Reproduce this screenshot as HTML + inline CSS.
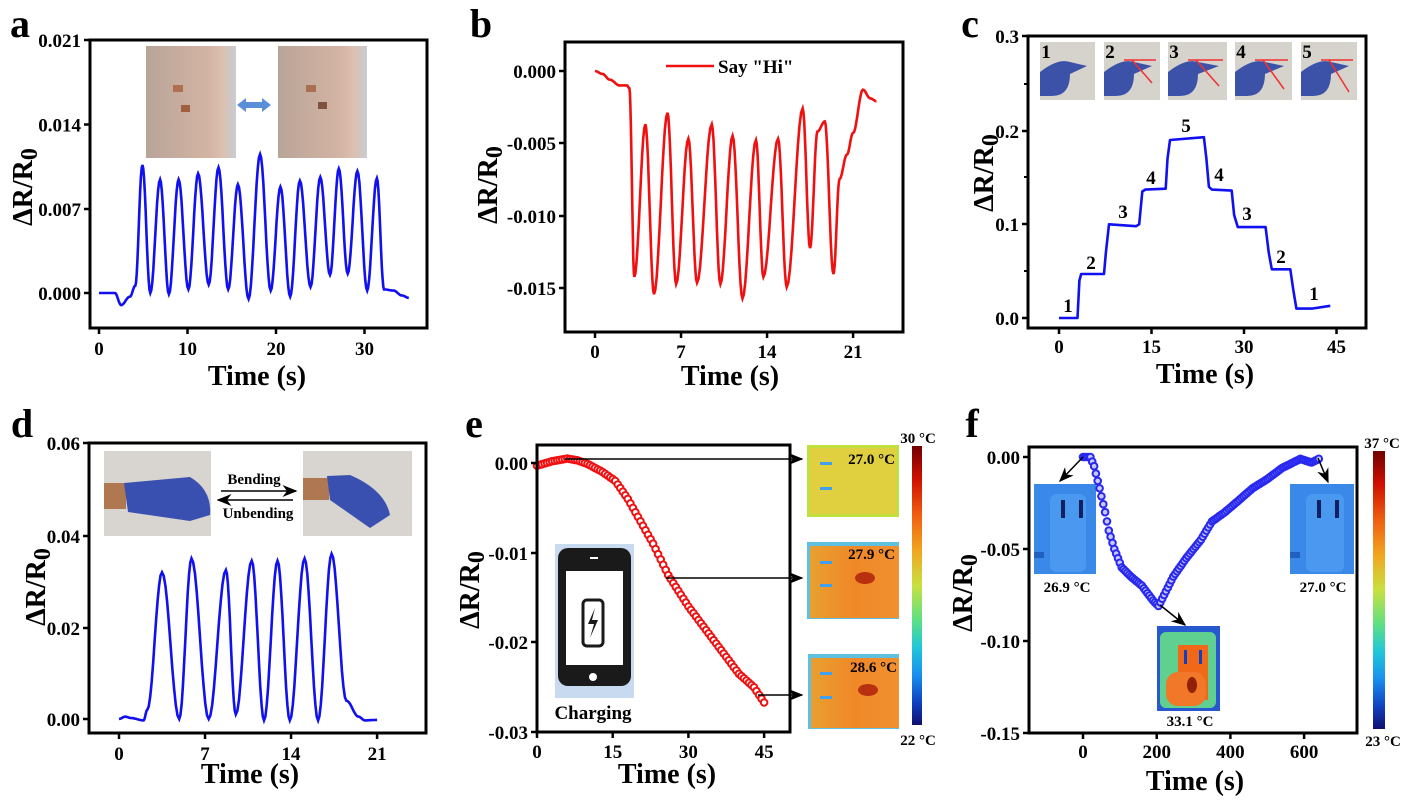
<!DOCTYPE html>
<html><head><meta charset="utf-8"><style>
html,body{margin:0;padding:0;background:#fff;width:1406px;height:800px;overflow:hidden}
svg text{font-family:"Liberation Serif",serif;font-weight:bold;fill:#000}
.tk{font-size:19px}.ax{font-size:28px}.lt{font-size:40px}.sm{font-size:15px}
</style></head><body>
<svg id="s" width="1406" height="800" viewBox="0 0 1406 800" xmlns="http://www.w3.org/2000/svg">
<defs>
<linearGradient id="cb" x1="0" y1="0" x2="0" y2="1">
<stop offset="0" stop-color="#700000"/><stop offset="0.12" stop-color="#d01000"/><stop offset="0.25" stop-color="#f06010"/><stop offset="0.38" stop-color="#f0a820"/><stop offset="0.5" stop-color="#c8e040"/><stop offset="0.62" stop-color="#60e080"/><stop offset="0.72" stop-color="#20c8d8"/><stop offset="0.82" stop-color="#1890f0"/><stop offset="0.92" stop-color="#1040c0"/><stop offset="1" stop-color="#101070"/></linearGradient>
<linearGradient id="face" x1="0" y1="0" x2="1" y2="0"><stop offset="0" stop-color="#b8a498"/><stop offset="0.7" stop-color="#d4b4a4"/><stop offset="0.85" stop-color="#dcc0b0"/><stop offset="1" stop-color="#c8ccd4"/></linearGradient>
<linearGradient id="hot" x1="0" y1="0" x2="1" y2="0"><stop offset="0" stop-color="#e8a030"/><stop offset="0.5" stop-color="#f08828"/><stop offset="1" stop-color="#f09030"/></linearGradient>
<marker id="ar" markerWidth="10" markerHeight="8" refX="9" refY="4" orient="auto"><path d="M0,0 L10,4 L0,8 L3,4z" fill="#000"/></marker>
</defs>
<g id="g"></g>
</svg>
<script>
const g=document.getElementById('g');let H='';
function add(s){H+=s;}
function txt(x,y,s,cls,anc){add(`<text x="${x}" y="${y}" class="${cls}" text-anchor="${anc||'middle'}">${s}</text>`);}
function ylab(x,y){add(`<text class="ax" text-anchor="middle" transform="translate(${x},${y}) rotate(-90)">ΔR/R<tspan font-size="24" dy="5">0</tspan></text>`);}
function box(x1,y1,x2,y2){add(`<rect x="${x1}" y="${y1}" width="${x2-x1}" height="${y2-y1}" fill="none" stroke="#000" stroke-width="3"/>`);}
function yt(x,y,lab){add(`<line x1="${x-6}" y1="${y}" x2="${x}" y2="${y}" stroke="#000" stroke-width="2.5"/>`);txt(x-9,y+7,lab,'tk','end');}
function xt(x,y,lab,by){add(`<line x1="${x}" y1="${y}" x2="${x}" y2="${y+6}" stroke="#000" stroke-width="2.5"/>`);txt(x,by,lab,'tk');}
function cosPath(pts,X,Y,lin){let d='';pts.forEach((p,i)=>{if(i==0){d+=`M${X(p[0]).toFixed(1)},${Y(p[1]).toFixed(1)}`;return;}const q=pts[i-1];const n=lin?1:10;for(let k=1;k<=n;k++){const f=k/n;const w=lin?f:(1-Math.cos(Math.PI*f))/2;const t=q[0]+(p[0]-q[0])*f;const v=q[1]+(p[1]-q[1])*w;d+=`L${X(t).toFixed(1)},${Y(v).toFixed(1)}`;}});return d;}
function interp(pts,t){for(let i=1;i<pts.length;i++){if(t<=pts[i][0]){const q=pts[i-1],p=pts[i];const f=(t-q[0])/(p[0]-q[0]);return q[1]+(p[1]-q[1])*f;}}return pts[pts.length-1][1];}

// ---------- a ----------
txt(20,37,'a','lt');
add(`<rect x="146" y="46" width="90" height="112" fill="url(#face)"/><rect x="278" y="46" width="89" height="112" fill="url(#face)"/>`);
add(`<rect x="173" y="85" width="10" height="7" fill="#b07050"/><rect x="181" y="105" width="9" height="7" fill="#a06040"/><rect x="306" y="85" width="10" height="7" fill="#a87050"/><rect x="318" y="102" width="9" height="7" fill="#805040"/>`);
add(`<path d="M237,105 L246,98 L246,102 L262,102 L262,98 L271,105 L262,112 L262,108 L246,108 L246,112z" fill="#5a8ed8"/>`);
{const X=t=>99+8.85*t,Y=v=>293-v/0.007*84.5;
const p=[[0,0],[1.8,0],[2.5,-0.001],[3.5,-0.0003],[4.1,0.0006],[4.9,0.0106],[5.8,0],[6.9,0.0094],[7.9,-0.0001],[9.0,0.0094],[10.1,0.0003],[11.2,0.0099],[12.4,0.0007],[13.5,0.0104],[14.6,0.0003],[15.7,0.009],[16.9,-0.0005],[18.2,0.0115],[19.4,0.0002],[20.5,0.0088],[21.6,-0.0003],[22.7,0.0093],[23.9,0.0005],[25,0.0096],[26.1,0.0015],[27.1,0.0103],[28.1,0.0016],[29.2,0.0101],[30.3,0.0002],[31.4,0.0095],[32.2,0.0003],[33.3,0.0002],[34.2,-0.0002],[35,-0.0004]];
add(`<path d="${cosPath(p,X,Y)}" fill="none" stroke="#1010f0" stroke-width="2.6"/>`);
box(90,40,427,328);[[40,'0.021'],[124.5,'0.014'],[209,'0.007'],[293,'0.000']].forEach(a=>yt(90,a[0],a[1]));
[0,10,20,30].forEach(t=>xt(X(t),328,t,355));}
ylab(32,187);txt(257,385,'Time (s)','ax');

// ---------- b ----------
txt(481,37,'b','lt');
{const X=t=>595+12.29*t,Y=v=>71-v*14400;
const p=[[0,0],[0.6,-0.0002],[1.2,-0.0006],[2,-0.001],[2.6,-0.001],[2.8,-0.0012],[3.2,-0.0143],[4.1,-0.0037],[4.8,-0.0155],[5.9,-0.0029],[6.6,-0.0148],[7.6,-0.0047],[8.3,-0.0147],[9.5,-0.0037],[10.2,-0.0148],[11.2,-0.0045],[12.0,-0.0158],[13.1,-0.0048],[13.7,-0.0143],[14.9,-0.0047],[15.6,-0.015],[16.9,-0.0026],[17.5,-0.0123],[18.1,-0.0042],[18.7,-0.0035],[19.4,-0.0141],[19.9,-0.0075],[20.5,-0.0058],[21,-0.0043],[21.8,-0.0013],[22.4,-0.0019],[22.9,-0.0021]];
add(`<path d="${cosPath(p,X,Y)}" fill="none" stroke="#f01010" stroke-width="2.6"/>`);
box(565,42,903,332);[[71,'0.000'],[143,'-0.005'],[216,'-0.010'],[288,'-0.015']].forEach(a=>yt(565,a[0],a[1]));
[0,7,14,21].forEach(t=>xt(X(t),332,t,358));}
add(`<line x1="666" y1="66" x2="714" y2="66" stroke="#f01010" stroke-width="2.6"/>`);txt(718,73,'Say "Hi"','tk','start');
ylab(497,185);txt(730,385,'Time (s)','ax');

// ---------- c ----------
txt(970,37,'c','lt');
const cx=[1040,1104,1168,1235,1301],cw=[55,56,59,57,56];
cx.forEach((x,i)=>{add(`<rect x="${x}" y="42" width="${cw[i]}" height="58" fill="#d6d2cc"/><path d="M${x},${72} Q${x+18},${58} ${x+30},${62} L${x+cw[i]-8},${66} L${x+30},${74} Q${x+30},${96} ${x+12},${96} L${x},${96}z" fill="#3c52a8"/>`);if(i>0)add(`<line x1="${x+20}" y1="60" x2="${x+cw[i]-4}" y2="60" stroke="#f03030" stroke-width="1.5"/><line x1="${x+28}" y1="60" x2="${x+cw[i]-8}" y2="${80+i*3}" stroke="#f03030" stroke-width="1.5"/>`);txt(x+6,58,i+1,'tk');});
{const X=t=>1059+6.167*t,Y=v=>318-v*937;
const p=[[0,0],[3,0],[3.3,0.04],[3.6,0.047],[7.3,0.047],[7.6,0.07],[8.1,0.1],[12.5,0.098],[13.0,0.1],[13.5,0.135],[14,0.137],[17.3,0.138],[17.6,0.17],[18,0.19],[23.5,0.193],[23.9,0.17],[24.3,0.14],[24.8,0.137],[28,0.136],[28.4,0.11],[29,0.097],[33.5,0.097],[34,0.07],[34.5,0.052],[37.5,0.052],[38,0.03],[38.5,0.01],[41,0.01],[44,0.013]];
add(`<path d="${cosPath(p,X,Y,true)}" fill="none" stroke="#1010f0" stroke-width="2.6" stroke-linejoin="round"/>`);
box(1028,36,1366,328);[[36,'0.3'],[131,'0.2'],[224,'0.1'],[318,'0.0']].forEach(a=>yt(1028,a[0],a[1]));
[84,177,271].forEach(y=>add(`<line x1="1024" y1="${y}" x2="1028" y2="${y}" stroke="#000" stroke-width="2"/>`));
[0,15,30,45].forEach(t=>xt(X(t),328,t,353));}
[[1068,'1',305],[1091,'2',262],[1123,'3',211],[1151,'4',177],[1186,'5',125],[1219,'4',174],[1247,'3',213],[1281,'2',256],[1314,'1',293]].forEach(a=>txt(a[0],a[2]+7,a[1],'tk'));
ylab(993,173);txt(1205,383,'Time (s)','ax');

// ---------- d ----------
txt(22,437,'d','lt');
add(`<rect x="104" y="451" width="107" height="85" fill="#d8d4d0"/><rect x="104" y="483" width="22" height="26" fill="#b07850"/><path d="M124,483 L190,477 Q212,490 210,515 L190,521 L128,512z" fill="#3a50b0"/>`);
add(`<rect x="303" y="451" width="109" height="85" fill="#d8d4d0"/><rect x="303" y="478" width="26" height="22" fill="#b07850"/><path d="M327,476 L350,475 Q385,490 390,515 L370,528 L330,500z" fill="#3a50b0"/>`);
add(`<line x1="221" y1="491" x2="296" y2="491" stroke="#000" stroke-width="1.5" marker-end="url(#ar)"/><line x1="293" y1="500" x2="218" y2="500" stroke="#000" stroke-width="1.5" marker-end="url(#ar)"/>`);
txt(254,484,'Bending','sm');txt(258,518,'Unbending','sm');
{const X=t=>119+12.29*t,Y=v=>719-v/0.02*91.7;
const p=[[0,0],[0.5,0.0005],[1,0.0002],[2,-0.0003],[2.3,0.002],[3.5,0.032],[4.9,0],[5.9,0.035],[7.3,0],[8.7,0.0325],[9.5,0.001],[10.8,0.0345],[11.8,-0.0003],[12.9,0.0345],[13.9,-0.0003],[15.1,0.035],[16.2,-0.0003],[17.3,0.036],[18.5,0.004],[19.5,0.0005],[20,-0.0003],[21,-0.0002]];
add(`<path d="${cosPath(p,X,Y)}" fill="none" stroke="#1010f0" stroke-width="2.6"/>`);
box(89,443,426,733);[[443,'0.06'],[536,'0.04'],[628,'0.02'],[719,'0.00']].forEach(a=>yt(89,a[0],a[1]));
[0,7,14,21].forEach(t=>xt(X(t),733,t,760));}
ylab(45,587);txt(250,783,'Time (s)','ax');

// ---------- e ----------
txt(474,437,'e','lt');
add(`<rect x="555" y="544" width="79" height="154" fill="#c8daf0"/><rect x="558" y="548" width="73" height="138" rx="10" fill="#1a1a1a"/><rect x="566" y="571" width="57" height="94" fill="#fff"/><rect x="583" y="600" width="20" height="46" rx="4" fill="none" stroke="#1a1a1a" stroke-width="3"/><path d="M595,608 L588,624 L594,624 L590,638 L598,620 L592,620z" fill="#1a1a1a"/><circle cx="593" cy="677" r="4" fill="#fff"/><rect x="590" y="557" width="8" height="2" fill="#fff"/>`);
txt(593,719,'Charging','tk');
add(`<rect x="807" y="445" width="92" height="72" fill="#c0e040"/><rect x="810" y="448" width="86" height="66" fill="#e0d040"/><rect x="820" y="462" width="12" height="3" fill="#40a0f0"/><rect x="820" y="487" width="12" height="3" fill="#40a0f0"/>`);
add(`<rect x="807" y="542" width="92" height="77" fill="#60c0e0"/><rect x="810" y="546" width="89" height="72" fill="url(#hot)"/><ellipse cx="865" cy="578" rx="10" ry="6" fill="#b83010"/><rect x="820" y="561" width="12" height="3" fill="#40a0f0"/><rect x="820" y="584" width="12" height="3" fill="#40a0f0"/>`);
add(`<rect x="808" y="654" width="91" height="75" fill="#60c0e0"/><rect x="811" y="658" width="88" height="70" fill="url(#hot)"/><ellipse cx="868" cy="690" rx="10" ry="6" fill="#b83010"/><rect x="820" y="672" width="12" height="3" fill="#40a0f0"/><rect x="820" y="696" width="12" height="3" fill="#40a0f0"/>`);
txt(895,464,'27.0 °C','sm','end');txt(895,559,'27.9 °C','sm','end');txt(897,672,'28.6 °C','sm','end');
add(`<rect x="912" y="446" width="10" height="279" fill="url(#cb)"/>`);
txt(918,443,'30 °C','sm');txt(918,745,'22 °C','sm');
{const X=t=>537+5.047*t,Y=v=>463-v*8970;
const k=[[0,-0.0003],[3,0.0002],[6,0.0005],[8,0.0003],[10,-0.0001],[13,-0.001],[15.5,-0.002],[18,-0.004],[20,-0.006],[23,-0.009],[26,-0.0125],[30,-0.016],[34,-0.019],[38,-0.022],[40,-0.0235],[43,-0.025],[45,-0.0267]];
let c='';for(let t=0;t<=45.01;t+=0.5){c+=`<circle cx="${X(t).toFixed(1)}" cy="${Y(interp(k,t)).toFixed(1)}" r="3.3" fill="#fff" stroke="#f01010" stroke-width="2"/>`;}add(c);
box(537,445,790,732);[[463,'0.00'],[553,'-0.01'],[642,'-0.02'],[732,'-0.03']].forEach(a=>yt(537,a[0],a[1]));
[0,15,30,45].forEach(t=>xt(X(t),732,t,758));}
add(`<line x1="565" y1="459" x2="802" y2="459" stroke="#000" stroke-width="1.5" marker-end="url(#ar)"/><line x1="666" y1="578" x2="802" y2="578" stroke="#000" stroke-width="1.5" marker-end="url(#ar)"/><line x1="758" y1="695" x2="802" y2="695" stroke="#000" stroke-width="1.5" marker-end="url(#ar)"/>`);
ylab(479,590);txt(667,783,'Time (s)','ax');

// ---------- f ----------
txt(972,437,'f','lt');
function blueimg(x,y,w,h){add(`<rect x="${x}" y="${y}" width="${w}" height="${h}" fill="#3a88e8"/><rect x="${x+16}" y="${y+10}" width="${w-26}" height="${h-12}" rx="6" fill="#4a98f0"/><rect x="${x+27}" y="${y+16}" width="4" height="18" fill="#102060"/><rect x="${x+45}" y="${y+16}" width="4" height="18" fill="#102060"/><rect x="${x}" y="${y+h-22}" width="10" height="6" fill="#2060c0"/>`);}
blueimg(1034,484,62,90);blueimg(1290,484,64,90);
add(`<rect x="1157" y="626" width="63" height="85" fill="#2858d0"/><rect x="1160" y="632" width="56" height="76" rx="6" fill="#60d090"/><rect x="1178" y="645" width="30" height="55" fill="#f06818"/><rect x="1166" y="672" width="40" height="34" rx="12" fill="#f07828"/><ellipse cx="1192" cy="685" rx="5" ry="8" fill="#902008"/><rect x="1184" y="650" width="3" height="14" fill="#1040c0"/><rect x="1199" y="650" width="3" height="14" fill="#1040c0"/>`);
txt(1067,592,'26.9 °C','sm');txt(1323,592,'27.0 °C','sm');txt(1190,726,'33.1 °C','sm');
add(`<rect x="1373" y="451" width="12" height="278" fill="url(#cb)"/>`);txt(1382,448,'37 °C','sm');txt(1383,746,'23 °C','sm');
{const X=t=>1083+0.3685*t,Y=v=>457-v*1840;
const k=[[0,0],[20,0],[30,-0.005],[45,-0.017],[60,-0.03],[70,-0.04],[85,-0.05],[105,-0.06],[130,-0.065],[160,-0.07],[190,-0.078],[205,-0.081],[220,-0.075],[245,-0.065],[280,-0.055],[320,-0.045],[350,-0.035],[385,-0.03],[420,-0.024],[460,-0.017],[500,-0.012],[540,-0.006],[590,-0.001],[620,-0.003],[640,-0.001]];
let c='';for(let t=0;t<=640.1;t+=5){c+=`<circle cx="${X(t).toFixed(1)}" cy="${Y(interp(k,t)).toFixed(1)}" r="3.3" fill="#c8c8ff" stroke="#2828f0" stroke-width="2"/>`;}add(c);
box(1029,447,1357,733);[[457,'0.00'],[549,'-0.05'],[641,'-0.10'],[733,'-0.15']].forEach(a=>yt(1029,a[0],a[1]));
[0,200,400,600].forEach(t=>xt(X(t),733,t,758));}
add(`<line x1="1083" y1="457" x2="1060" y2="481" stroke="#000" stroke-width="1.5" marker-end="url(#ar)"/><line x1="1318" y1="458" x2="1328" y2="482" stroke="#000" stroke-width="1.5" marker-end="url(#ar)"/><line x1="1160" y1="605" x2="1185" y2="625" stroke="#000" stroke-width="1.5" marker-end="url(#ar)"/>`);
ylab(972,593);txt(1195,790,'Time (s)','ax');
g.innerHTML=H;
</script>
</body></html>
